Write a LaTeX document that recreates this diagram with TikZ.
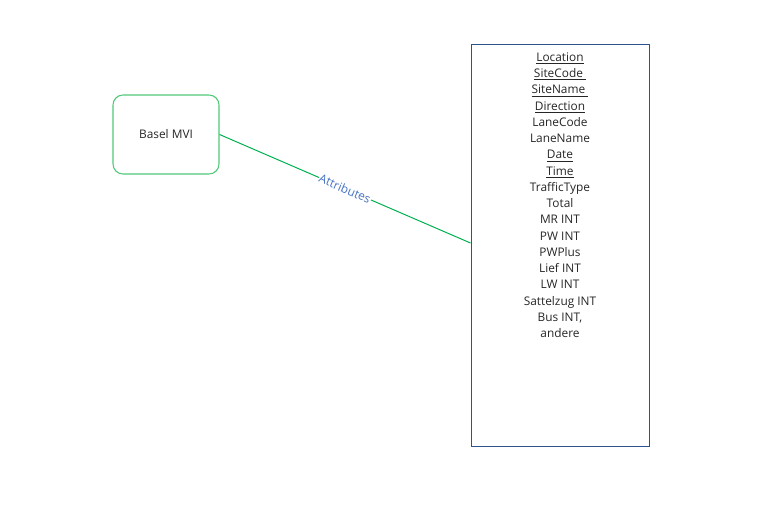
\documentclass[tikz,border=0pt]{standalone}
\usepackage{fontspec}
\setmainfont{Open Sans}
\definecolor{lgreen}{RGB}{0,176,80}
\definecolor{bgreen}{RGB}{80,200,120}
\definecolor{dblue}{RGB}{47,82,143}
\definecolor{lblue}{RGB}{68,114,196}
\begin{document}
\begin{tikzpicture}[x=0.75pt,y=-0.75pt,
  every node/.style={font=\fontsize{8.9pt}{12.18pt}\selectfont, text=black!85},
  entitybox/.style={draw=bgreen, line width=0.8pt, rounded corners=7.5pt, minimum width=79.5pt, minimum height=59.25pt, inner sep=0pt},
  attrbox/.style={draw=dblue, line width=0.75pt, minimum width=133.5pt, minimum height=301.5pt, inner sep=0pt},
  conn/.style={draw=lgreen, line width=0.75pt},
  conlabel/.style={text=lblue, fill=white, inner sep=0.5pt, sloped}]
\useasboundingbox (0,0) rectangle (772,529);
\node[entitybox] (basel) at (166,134.5) {Basel MVI};
\node[attrbox] (entity) at (560,245) {};
\node[anchor=north, align=center, inner sep=0pt] (attrs) at (560,52.5)
  {\underline{Location}\\ \underline{SiteCode\ }\\ \underline{SiteName\ }\\ \underline{Direction}\\ LaneCode\\ LaneName\\ \underline{Date}\\ \underline{Time}\\ TrafficType\\ Total\\ MR INT\\ PW INT\\ PWPlus\\ Lief INT\\ LW INT\\ Sattelzug INT\\ Bus INT,\\ andere};
\draw[conn] (basel.east) -- node[conlabel] {Attributes} ([yshift=1.5pt]entity.west);
\end{tikzpicture}
\end{document}
